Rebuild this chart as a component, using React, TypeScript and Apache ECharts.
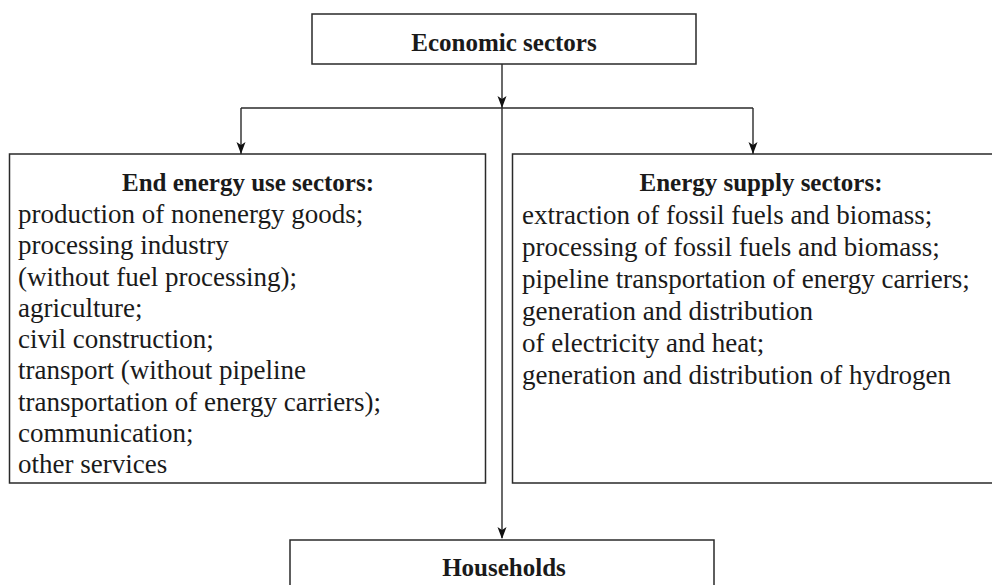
import React, { useEffect, useRef } from "react";
import * as echarts from "echarts";

const topTitle = "Economic sectors";
const leftTitle = "End energy use sectors:";
const rightTitle = "Energy supply sectors:";
const bottomTitle = "Households";
const leftItems = [
  "production of nonenergy goods;",
  "processing industry",
  "(without fuel processing);",
  "agriculture;",
  "civil construction;",
  "transport (without pipeline",
  "transportation of energy carriers);",
  "communication;",
  "other services",
];
const rightItems = [
  "extraction of fossil fuels and biomass;",
  "processing of fossil fuels and biomass;",
  "pipeline transportation of energy carriers;",
  "generation and distribution",
  "of electricity and heat;",
  "generation and distribution of hydrogen",
];

const FONT = "'Liberation Serif', 'Times New Roman', serif";
const LINE = "#2a2a2a";
const TXT = "#1a1a1a";

function boxRect(x1: number, y1: number, x2: number, y2: number) {
  return {
    type: "rect",
    shape: { x: x1, y: y1, width: x2 - x1, height: y2 - y1 },
    style: { fill: "#fff", stroke: LINE, lineWidth: 1.5 },
  };
}
function seg(x1: number, y1: number, x2: number, y2: number) {
  return {
    type: "line",
    shape: { x1, y1, x2, y2 },
    style: { stroke: LINE, lineWidth: 1.4 },
  };
}
function arrowHead(x: number, yTip: number) {
  return {
    type: "polygon",
    shape: { points: [[x, yTip], [x - 4.5, yTip - 12], [x, yTip - 9], [x + 4.5, yTip - 12]] },
    style: { fill: "#111" },
  };
}
function txt(text: string, x: number, baseline: number, size: number, bold: boolean, align: string) {
  return {
    type: "text",
    x,
    y: baseline - size * 0.3,
    style: {
      text,
      fill: TXT,
      font: `${bold ? "bold " : ""}${size}px ${FONT}`,
      align,
      verticalAlign: "middle",
    },
  };
}

export default function App() {
  const ref = useRef<HTMLDivElement>(null);
  useEffect(() => {
    if (!ref.current) return;
    const chart = echarts.init(ref.current, undefined, { renderer: "svg" });
    const cx = 502;
    const elements: any[] = [];
    // connectors
    elements.push(seg(cx, 64, cx, 538));
    elements.push(seg(241, 108, 753, 108));
    elements.push(seg(241, 108, 241, 154));
    elements.push(seg(753, 108, 753, 154));
    // boxes
    elements.push(boxRect(312, 14, 696, 64));
    elements.push(boxRect(9.5, 154, 485.5, 483));
    elements.push(boxRect(512.5, 154, 1010, 483));
    elements.push(boxRect(290, 540, 714, 610));
    // arrowheads
    elements.push(arrowHead(cx, 108));
    elements.push(arrowHead(241, 154));
    elements.push(arrowHead(753, 154));
    elements.push(arrowHead(cx, 539));
    // titles
    elements.push(txt(topTitle, 504, 50, 25, true, "center"));
    elements.push(txt(leftTitle, 248, 190, 25, true, "center"));
    elements.push(txt(rightTitle, 761, 190, 25, true, "center"));
    elements.push(txt(bottomTitle, 504, 575, 25, true, "center"));
    const lh = 31.3;
    leftItems.forEach((t, i) => elements.push(txt(t, 18, 222 + i * lh, 27, false, "left")));
    const rh = 32;
    rightItems.forEach((t, i) => elements.push(txt(t, 522, 223 + i * rh, 27, false, "left")));

    chart.setOption({
      animation: false,
      backgroundColor: "#fff",
      graphic: { elements },
    });
    return () => chart.dispose();
  }, []);
  return (
    <div
      ref={ref}
      style={{ position: "absolute", left: 0, top: 0, width: 992, height: 585 }}
    />
  );
}
